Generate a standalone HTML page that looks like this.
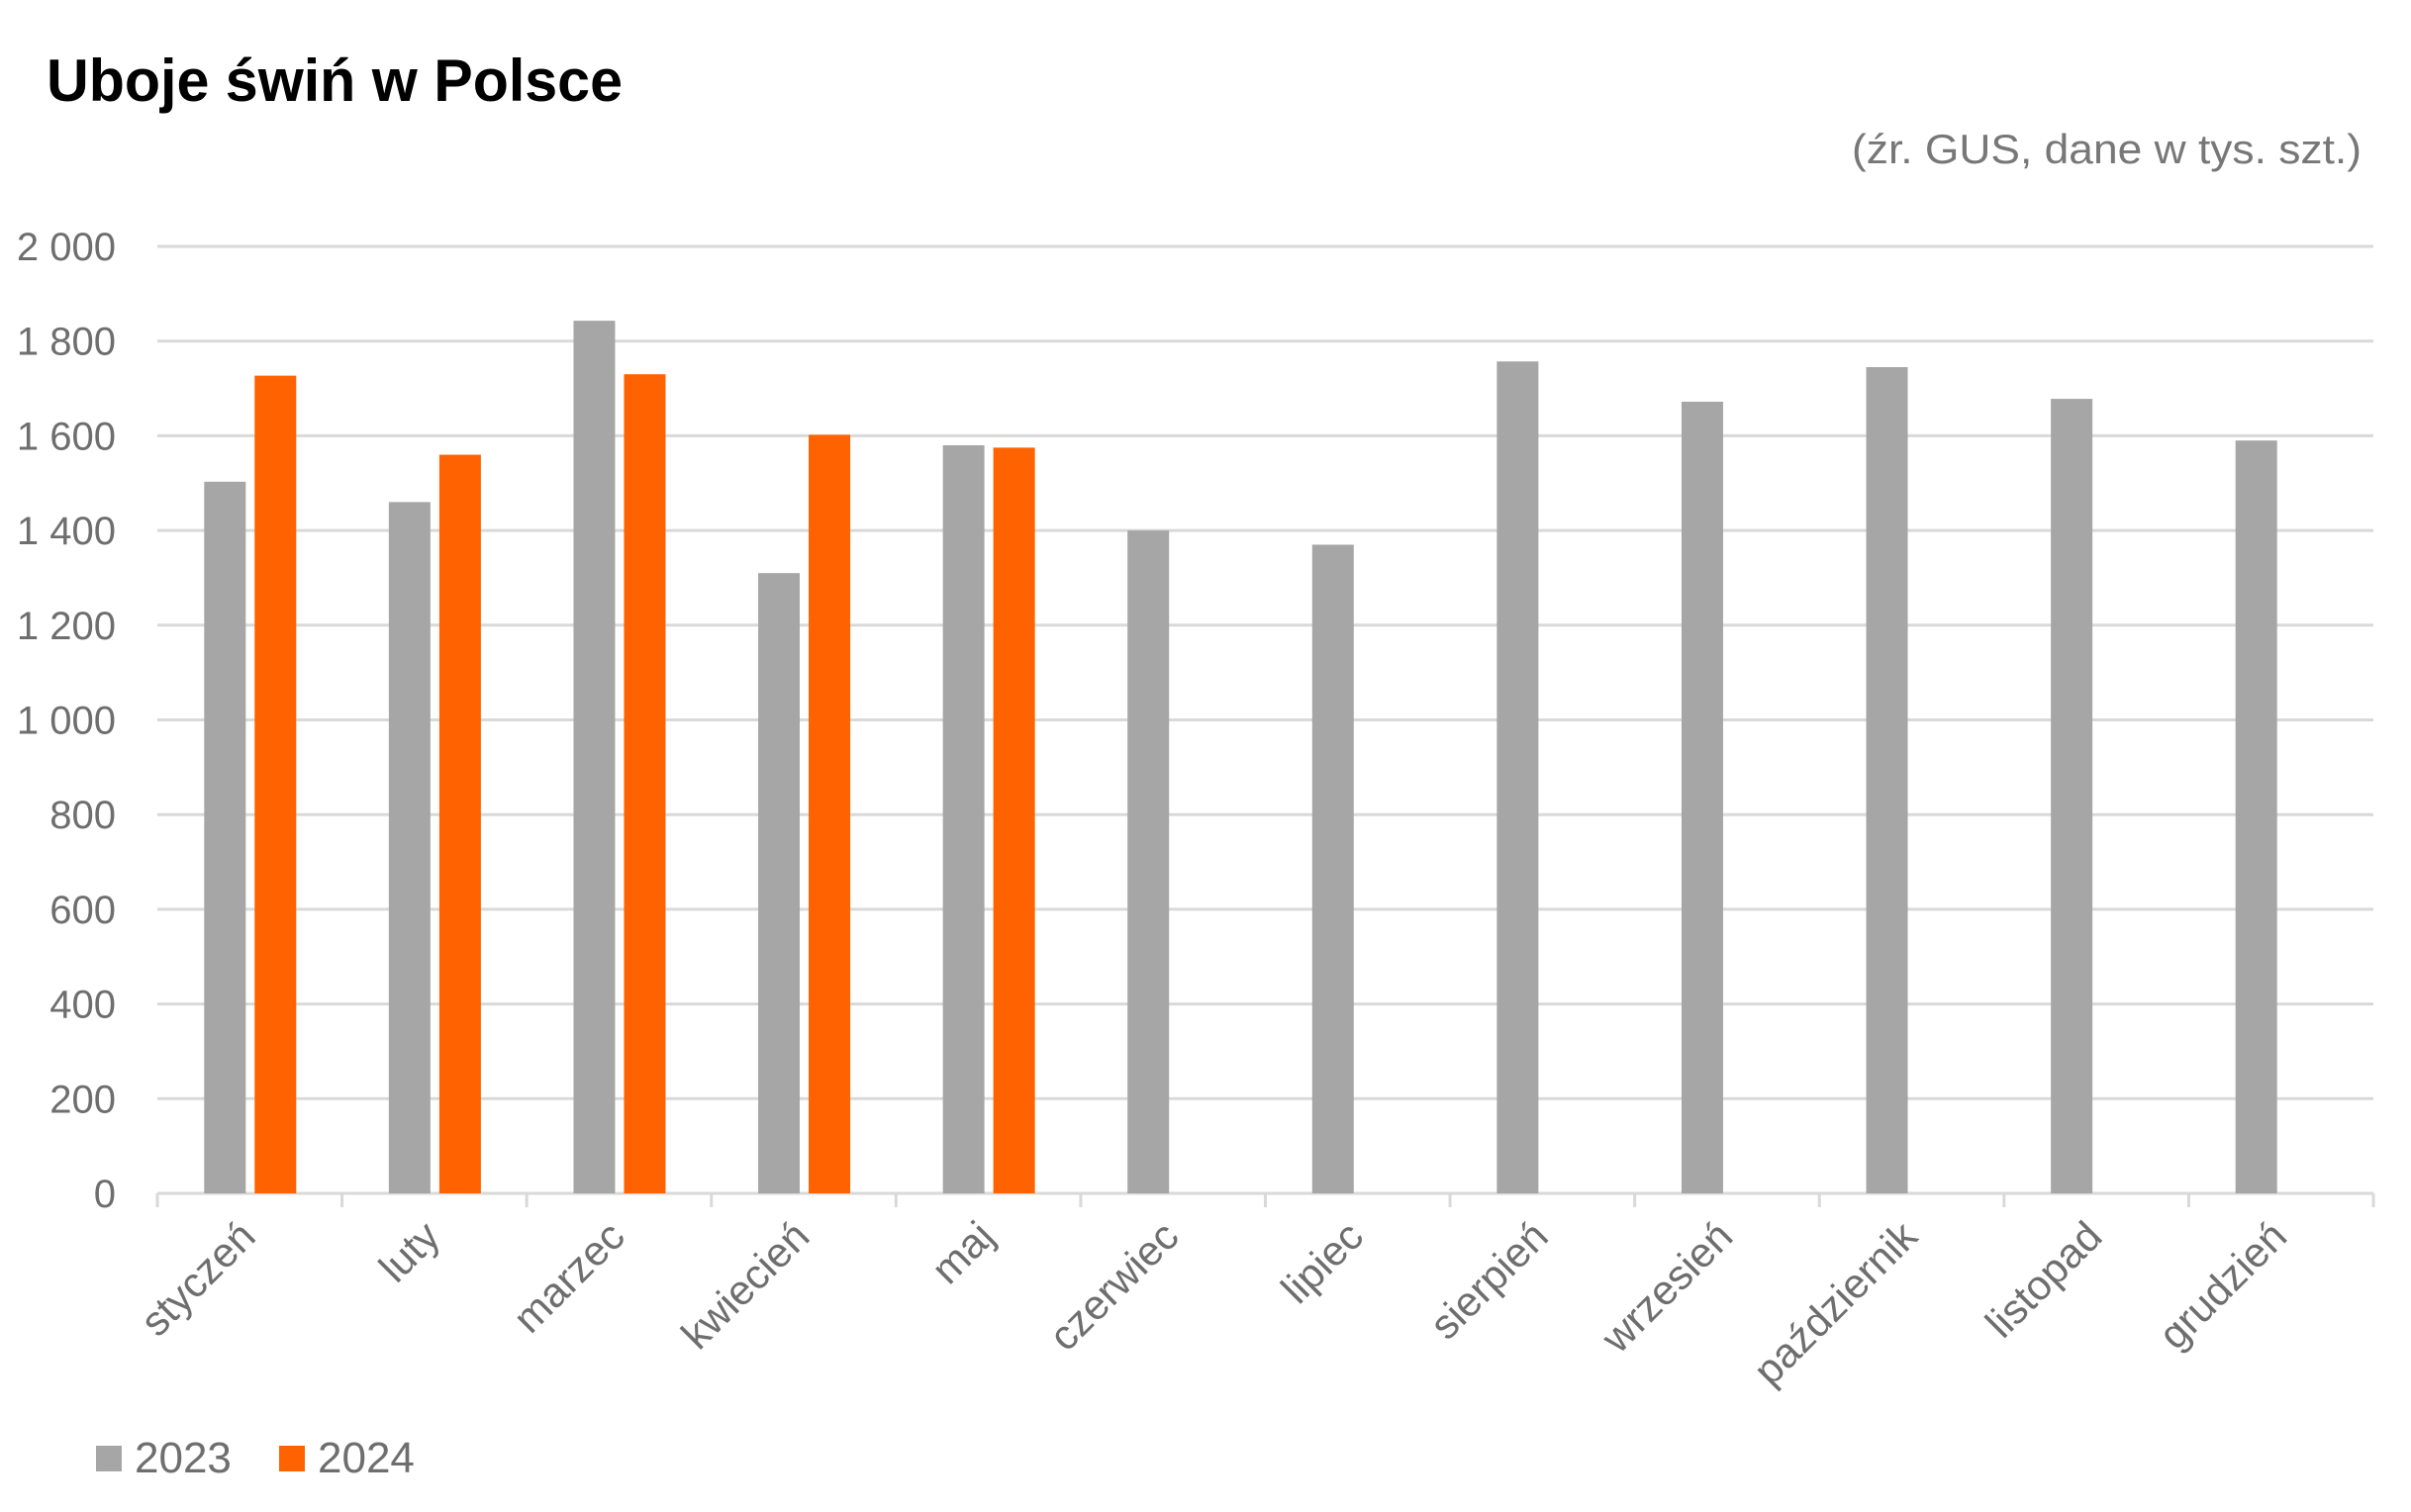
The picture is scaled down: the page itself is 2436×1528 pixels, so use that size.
<!DOCTYPE html>
<html><head><meta charset="utf-8"><style>
html,body{margin:0;padding:0;background:#fff;}
svg{display:block;font-family:"Liberation Sans",sans-serif;}
</style></head><body>
<svg width="2436" height="1528" viewBox="0 0 2436 1528" xmlns="http://www.w3.org/2000/svg">
<text x="47" y="102" font-size="60" font-weight="bold" fill="#000" textLength="582" lengthAdjust="spacingAndGlyphs">Uboje świń w Polsce</text>
<text x="2386" y="165" font-size="42" fill="#777" text-anchor="end" textLength="515" lengthAdjust="spacingAndGlyphs">(źr. GUS, dane w tys. szt.)</text>
<g stroke="#d9d9d9" stroke-width="3" id="grid"></g>
<g stroke="#d9d9d9" stroke-width="3" id="ticks"></g>
<g font-size="40" fill="#6e6e6e" text-anchor="end" id="ylab"></g>
<g id="bars"></g>
<g id="labels" font-size="42" fill="#6e6e6e" text-anchor="end"></g>
<rect x="97" y="1461" width="26" height="26" fill="#a6a6a6"/>
<text x="136" y="1488" font-size="44" fill="#6e6e6e">2023</text>
<rect x="282" y="1461" width="26" height="26" fill="#ff6200"/>
<text x="321" y="1488" font-size="44" fill="#6e6e6e">2024</text>
<script>
var ns="http://www.w3.org/2000/svg";
var a=[1503,1460,1843,1310,1580,1400,1370,1757,1672,1745,1678,1590];
var b=[1727,1560,1730,1602,1575];
var m=["styczeń","luty","marzec","kwiecień","maj","czerwiec","lipiec","sierpień","wrzesień","październik","listopad","grudzień"];
var X0=159,X1=2398,y0=1206,ytop=249,k=(y0-ytop)/2000,cw=(X1-X0)/12;
var yl=["0","200","400","600","800","1 000","1 200","1 400","1 600","1 800","2 000"];
var grid=document.getElementById("grid"),ylab=document.getElementById("ylab");
for(var j=0;j<=10;j++){var y=y0-j*200*k;
 var l=document.createElementNS(ns,"line");l.setAttribute("x1",X0);l.setAttribute("x2",X1);l.setAttribute("y1",y);l.setAttribute("y2",y);grid.appendChild(l);
 var t=document.createElementNS(ns,"text");t.setAttribute("x",117);t.setAttribute("y",y+14);t.textContent=yl[j];ylab.appendChild(t);}
var bars=document.getElementById("bars"),labels=document.getElementById("labels"),ticks=document.getElementById("ticks");
function r(x,h,c){var e=document.createElementNS(ns,"rect");e.setAttribute("x",x);e.setAttribute("y",y0-h);e.setAttribute("width",42);e.setAttribute("height",h);e.setAttribute("fill",c);bars.appendChild(e);}
for(var i=0;i<=12;i++){var l=document.createElementNS(ns,"line");var x=X0+i*cw;l.setAttribute("x1",x);l.setAttribute("x2",x);l.setAttribute("y1",y0);l.setAttribute("y2",y0+14);ticks.appendChild(l);}
for(var i=0;i<12;i++){
 var c=X0+i*cw+cw/2;
 r(c-46,a[i]*k,"#a6a6a6");
 if(i<5)r(c+5,b[i]*k,"#ff6200");
 var t=document.createElementNS(ns,"text");
 var tx=c+8,ty=1252;
 t.setAttribute("x",tx);t.setAttribute("y",ty);
 t.setAttribute("transform","rotate(-45 "+tx+" "+ty+")");
 t.textContent=m[i];labels.appendChild(t);
}
</script>
</svg>
</body></html>
